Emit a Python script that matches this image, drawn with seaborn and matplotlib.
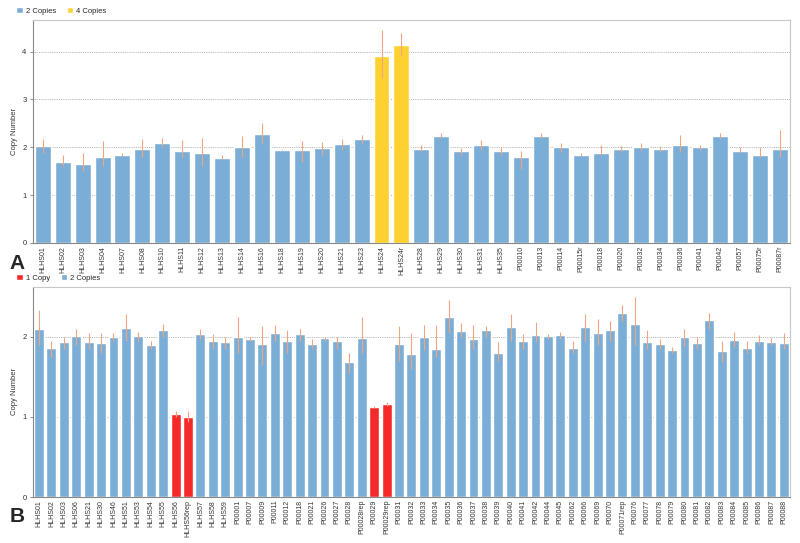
import numpy as np
import pandas as pd
import matplotlib
matplotlib.use("Agg")
import matplotlib.pyplot as plt
import seaborn as sns
from matplotlib.patches import Patch

# ---- panel A data ----
a_samples = ["HLHS01", "HLHS02", "HLHS03", "HLHS04", "HLHS07", "HLHS08", "HLHS10", "HLHS11",
             "HLHS12", "HLHS13", "HLHS14", "HLHS16", "HLHS18", "HLHS19", "HLHS20", "HLHS21",
             "HLHS23", "HLHS24", "HLHS24r", "HLHS28", "HLHS29", "HLHS30", "HLHS31", "HLHS35",
             "P00010", "P00013", "P00014", "P00015r", "P00018", "P00020", "P00032", "P00034",
             "P00036", "P00041", "P00042", "P00057", "P00075r", "P00087r"]
a_values = [2.03, 1.69, 1.66, 1.79, 1.84, 1.96, 2.09, 1.93, 1.88, 1.77, 2.00, 2.27, 1.95, 1.95,
            1.98, 2.06, 2.18, 3.90, 4.14, 1.96, 2.24, 1.92, 2.04, 1.93, 1.80, 2.24, 2.00, 1.84,
            1.89, 1.97, 2.00, 1.97, 2.05, 2.00, 2.24, 1.93, 1.84, 1.96]
a_err_lo = [1.88, 1.60, 1.50, 1.60, 1.82, 1.80, 2.00, 1.80, 1.60, 1.75, 1.80, 2.10, 1.94, 1.70,
            1.85, 1.95, 2.10, 3.45, 3.90, 1.90, 2.20, 1.85, 1.95, 1.85, 1.55, 2.20, 1.90, 1.82,
            1.85, 1.90, 1.95, 1.90, 1.90, 1.95, 2.20, 1.88, 1.80, 1.80]
a_err_hi = [2.18, 1.83, 1.88, 2.13, 1.88, 2.18, 2.20, 2.15, 2.20, 1.83, 2.24, 2.50, 1.96, 2.13,
            2.12, 2.17, 2.26, 4.45, 4.40, 2.05, 2.30, 1.98, 2.15, 2.00, 1.93, 2.30, 2.08, 1.88,
            2.05, 2.03, 2.10, 2.03, 2.25, 2.05, 2.30, 2.00, 2.00, 2.37]
a_calls = ["2 Copies"] * 17 + ["4 Copies"] * 2 + ["2 Copies"] * 19

# ---- panel B data ----
b_samples = ["HLHS01", "HLHS02", "HLHS03", "HLHS06", "HLHS21", "HLHS30", "HLHS46", "HLHS51",
             "HLHS53", "HLHS54", "HLHS55", "HLHS56", "HLHS56rep", "HLHS57", "HLHS58", "HLHS59",
             "P00001", "P00007", "P00009", "P00011", "P00012", "P00018", "P00021", "P00026",
             "P00027", "P00028", "P00028rep", "P00029", "P00029rep", "P00031", "P00032", "P00033",
             "P00034", "P00035", "P00036", "P00037", "P00038", "P00039", "P00040", "P00041",
             "P00042", "P00044", "P00045", "P00062", "P00066", "P00069", "P00070", "P00071rep",
             "P00076", "P00077", "P00078", "P00079", "P00080", "P00081", "P00082", "P00083",
             "P00084", "P00085", "P00086", "P00087", "P00088"]
b_values = [2.09, 1.86, 1.93, 2.01, 1.93, 1.92, 2.00, 2.11, 2.01, 1.90, 2.08, 1.03, 1.00, 2.03,
            1.95, 1.93, 1.99, 1.97, 1.91, 2.05, 1.95, 2.03, 1.91, 1.98, 1.94, 1.68, 1.98, 1.12,
            1.16, 1.91, 1.78, 2.00, 1.85, 2.24, 2.07, 1.97, 2.08, 1.80, 2.12, 1.95, 2.02, 2.01,
            2.02, 1.86, 2.12, 2.05, 2.08, 2.30, 2.16, 1.93, 1.91, 1.84, 2.00, 1.92, 2.21, 1.82,
            1.96, 1.86, 1.95, 1.93, 1.92]
b_err_lo = [1.90, 1.75, 1.85, 1.90, 1.85, 1.80, 1.95, 1.95, 1.95, 1.85, 2.00, 1.00, 0.93, 1.97,
            1.85, 1.85, 1.80, 1.95, 1.65, 1.95, 1.80, 1.95, 1.85, 1.95, 1.85, 1.55, 1.80, 1.11,
            1.14, 1.70, 1.60, 1.83, 1.75, 2.04, 2.00, 1.85, 2.00, 1.70, 1.95, 1.85, 1.95, 1.97,
            1.97, 1.80, 1.95, 1.90, 1.95, 2.20, 1.90, 1.85, 1.85, 1.80, 1.88, 1.85, 2.10, 1.68,
            1.87, 1.80, 1.90, 1.90, 1.85]
b_err_hi = [2.33, 1.94, 2.00, 2.10, 2.05, 2.05, 2.05, 2.28, 2.06, 1.95, 2.16, 1.07, 1.07, 2.10,
            2.03, 2.00, 2.24, 2.00, 2.13, 2.15, 2.08, 2.10, 1.97, 2.00, 2.00, 1.80, 2.25, 1.13,
            1.18, 2.13, 2.05, 2.15, 2.15, 2.46, 2.17, 2.15, 2.13, 1.93, 2.28, 2.03, 2.18, 2.03,
            2.06, 1.95, 2.28, 2.22, 2.20, 2.39, 2.50, 2.08, 1.97, 1.87, 2.10, 2.00, 2.30, 1.95,
            2.06, 1.95, 2.02, 1.98, 2.05]
b_calls = ["2 Copies"] * 11 + ["1 Copy"] * 2 + ["2 Copies"] * 14 + ["1 Copy"] * 2 + ["2 Copies"] * 32

colors = {"1 Copy": "#f42a2a", "2 Copies": "#7aaed6", "4 Copies": "#fdd230"}
err_color = "#f0a582"
grid_color = "#a0a0a0"
frame_color = "#c8c8c8"

sns.set_style("white")
plt.rcParams['font.family'] = ['Liberation Sans', 'DejaVu Sans']


def draw_panel(ax, samples, values, lo, hi, calls, order, ymax, yticks):
    df = pd.DataFrame({"sample": samples, "value": values, "call": calls})
    sns.barplot(data=df, x="sample", y="value", hue="call", hue_order=order,
                palette=colors, dodge=False, errorbar=None, width=0.8,
                saturation=1, legend=False, ax=ax, zorder=2)
    ax.vlines(np.arange(len(samples)), lo, hi, color=err_color, lw=0.8, zorder=3)
    ax.set_ylim(0, ymax)
    ax.set_xlim(-0.5, len(samples) - 0.5)
    ax.set_yticks(yticks)
    for y in yticks[1:]:
        ax.axhline(y, color=grid_color, lw=0.6, ls=(0, (1, 1.2)), zorder=1)
    ax.set_xlabel("")
    ax.set_ylabel("Copy Number", fontsize=5.5, color="#333333", labelpad=3)
    ax.tick_params(axis="x", labelrotation=90, labelsize=5, colors="#333333",
                   length=0, pad=2)
    ax.tick_params(axis="y", labelsize=5.5, colors="#333333", length=2.5,
                   width=0.6, left=True, color="#777777", pad=2)
    for s in ax.spines.values():
        s.set_color(frame_color)
        s.set_linewidth(0.8)
    ax.spines["left"].set_color("#888888")
    ax.spines["bottom"].set_color("#888888")


fig = plt.figure(figsize=(8, 5.43), dpi=100)
ax_a = fig.add_axes([0.041, 0.5525, 0.9465, 0.4105])
ax_b = fig.add_axes([0.041, 0.0847, 0.9465, 0.3868])

draw_panel(ax_a, a_samples, a_values, a_err_lo, a_err_hi, a_calls,
           ["2 Copies", "4 Copies"], 4.66, [0, 1, 2, 3, 4])
draw_panel(ax_b, b_samples, b_values, b_err_lo, b_err_hi, b_calls,
           ["1 Copy", "2 Copies"], 2.62, [0, 1, 2])

for order, y in [(["2 Copies", "4 Copies"], 1.0), (["1 Copy", "2 Copies"], 0.508)]:
    handles = [Patch(facecolor=colors[k], label=k) for k in order]
    fig.legend(handles=handles, loc="upper left", bbox_to_anchor=(0.012, y),
               ncol=2, frameon=False, fontsize=5.5, handlelength=0.9,
               handleheight=0.9, handletextpad=0.3, columnspacing=1.4)

fig.text(0.012, 0.515, "A", fontsize=15, fontweight="bold", va="center")
fig.text(0.012, 0.048, "B", fontsize=15, fontweight="bold", va="center")

fig.savefig("out.png", dpi=100, facecolor="white")
